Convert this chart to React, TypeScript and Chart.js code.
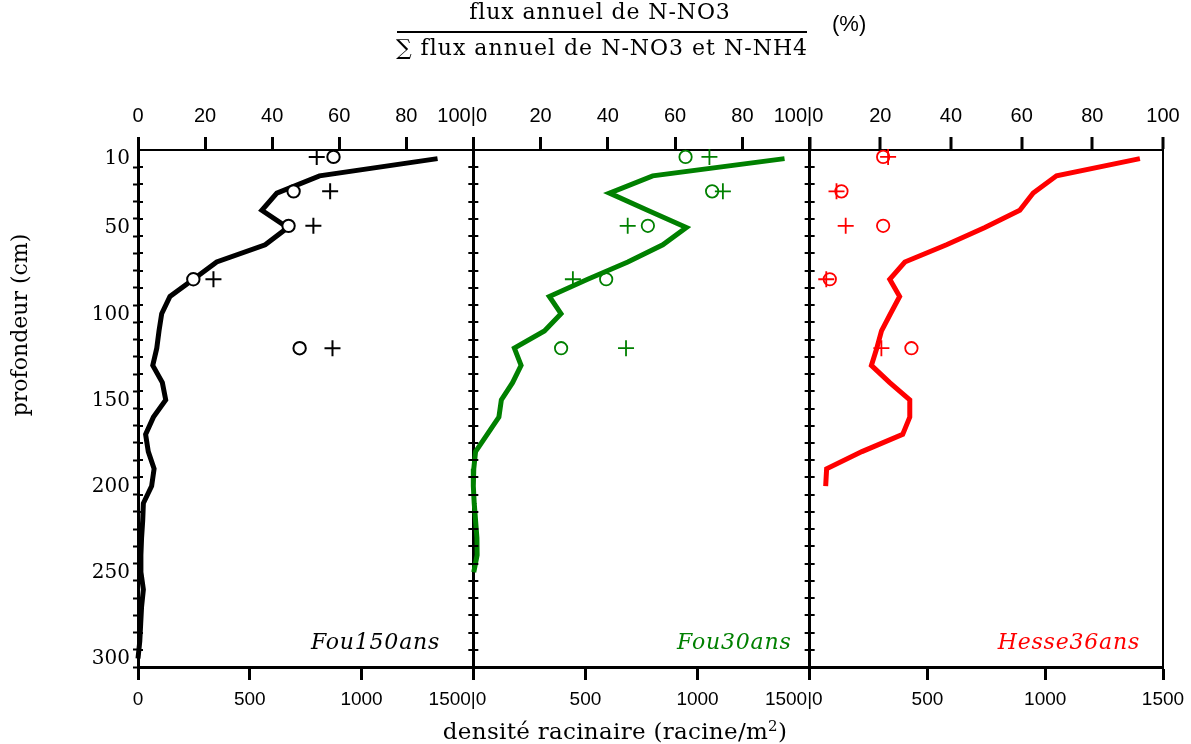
import React, { useEffect, useRef } from 'react';
import { Chart, registerables } from 'chart.js';

Chart.register(...registerables);

// ---------- data ----------
const PANEL_NAMES = ['Fou150ans', 'Fou30ans', 'Hesse36ans'];
const PANEL_COLORS = ['#000000', '#008000', '#ff0000'];

const DEPTH_LABELS = [10, 50, 100, 150, 200, 250, 300];

// root density profiles (racine/m2) vs depth (cm)
const FOU150_DEPTH = [5, 15, 25, 35, 45, 55, 65, 75, 85, 95, 105, 115, 125, 135, 145, 155, 165, 175, 185, 195, 205, 215, 225, 235, 245, 255, 265, 275, 285, 295];
const FOU150_DENS = [1340, 812, 621, 554, 670, 569, 352, 248, 143, 106, 94, 84, 66, 109, 124, 69, 34, 46, 72, 61, 24, 21, 16, 13, 13, 24, 16, 12, 8, 0];

const FOU30_DEPTH = [5, 15, 25, 35, 45, 55, 65, 75, 85, 95, 105, 115, 125, 135, 145, 155, 165, 175, 185, 195, 205, 215, 225, 235, 245];
const FOU30_DENS = [1388, 800, 607, 777, 950, 845, 689, 510, 339, 391, 317, 183, 213, 175, 125, 114, 62, 10, 2, 0, 4, 10, 16, 17, 2];

const HESSE_DEPTH = [5, 15, 25, 35, 45, 55, 65, 75, 85, 95, 105, 115, 125, 135, 145, 155, 165, 175, 185, 195];
const HESSE_DENS = [1402, 1048, 949, 892, 744, 581, 404, 340, 382, 343, 305, 285, 262, 340, 425, 425, 395, 222, 72, 68];

// N-NO3 share of annual flux (%) at sampling depths
const FLUX_DEPTH = [4, 24, 44, 75, 115];
const FOU150_CIRCLE = [58.3, 46.4, 44.9, 16.5, 48.2];
const FOU150_CROSS = [53.3, 57.3, 52.3, 22.5, 58.0];
const FOU30_CIRCLE = [63.1, 71.0, 51.9, 39.5, 26.1];
const FOU30_CROSS = [70.2, 74.2, 45.9, 29.6, 45.4];
const HESSE_CIRCLE = [20.8, 9.0, 20.8, 5.7, 28.8];
const HESSE_CROSS = [22.2, 7.6, 10.2, 4.7, 20.3];

// ---------- styling / layout ----------
const SERIF = '"DejaVu Serif", serif';
const SANS = '"Liberation Sans", Arial, sans-serif';
const PANEL_WEIGHTS = [335, 336, 353];
const LABEL_ANCHOR_PCT = [90.1, 94.6, 93.5];
const LABEL_DEPTH = 286;

const pts = (xs: number[], ys: number[]) => xs.map((x, k) => ({ x, y: ys[k] }));

function topAxis(i: number) {
  return {
    type: 'linear',
    axis: 'x',
    position: 'top',
    stack: 'pct',
    stackWeight: PANEL_WEIGHTS[i],
    weight: 3 - i,
    min: 0,
    max: 100,
    ticks: {
      stepSize: 20,
      autoSkip: false,
      maxRotation: 0,
      minRotation: 0,
      padding: 9,
      color: '#000',
      font: { family: SANS, size: 20 },
      callback: (v: number) =>
        v === 100 && i < 2 ? '100|0\u2007\u2007' : v === 0 && i > 0 ? '' : String(v),
    },
    grid: {
      drawOnChartArea: true,
      color: (c: any) => (c.tick && c.tick.value === 100 ? '#000' : 'rgba(0,0,0,0)'),
      lineWidth: i < 2 ? 3 : 2,
      tickColor: '#000',
      tickWidth: 3,
      tickLength: 13,
    },
    border: { display: true, color: '#000', width: 2 },
    afterFit: (s: any) => {
      s.height = 150;
      s.paddingLeft = 0;
      s.paddingRight = 0;
    },
  };
}

function bottomAxis(i: number) {
  return {
    type: 'linear',
    axis: 'x',
    position: 'bottom',
    stack: 'dens',
    stackWeight: PANEL_WEIGHTS[i],
    weight: i,
    min: 0,
    max: 1500,
    ticks: {
      stepSize: 500,
      autoSkip: false,
      maxRotation: 0,
      minRotation: 0,
      padding: 8,
      color: '#000',
      font: { family: SANS, size: 19 },
      callback: (v: number) =>
        v === 1500 && i < 2 ? '1500|0\u2007\u2007\u2007' : v === 0 && i > 0 ? '' : String(v),
    },
    grid: { drawOnChartArea: false, tickColor: '#000', tickWidth: 3, tickLength: 13 },
    border: { display: true, color: '#000', width: 3 },
    afterFit: (s: any) => {
      s.height = 77;
      s.paddingLeft = 0;
      s.paddingRight = 0;
    },
  };
}

const decorPlugin = {
  id: 'decor',
  afterDraw(chart: any) {
    const { ctx, scales } = chart;
    const ys = scales.y;
    const tops = [scales.xt1, scales.xt2, scales.xt3];
    ctx.save();
    ctx.strokeStyle = '#000';
    ctx.lineWidth = 2;
    const edges = [
      { x: tops[0].getPixelForValue(0), l: 0, r: 5 },
      { x: tops[0].getPixelForValue(100), l: 5, r: 5 },
      { x: tops[1].getPixelForValue(100), l: 5, r: 5 },
    ];
    ctx.beginPath();
    ys.ticks.forEach((t: any) => {
      if (t.value === 0) return;
      const py = Math.round(ys.getPixelForValue(t.value));
      edges.forEach((e) => {
        ctx.moveTo(e.x - e.l, py);
        ctx.lineTo(e.x + e.r, py);
      });
    });
    ctx.stroke();
    ctx.font = `italic 22px ${SERIF}`;
    try {
      ctx.letterSpacing = '0.8px';
    } catch (e) {}
    ctx.textAlign = 'right';
    ctx.textBaseline = 'middle';
    PANEL_NAMES.forEach((name, i) => {
      ctx.fillStyle = PANEL_COLORS[i];
      ctx.fillText(name, tops[i].getPixelForValue(LABEL_ANCHOR_PCT[i]), ys.getPixelForValue(LABEL_DEPTH));
    });
    ctx.restore();
  },
};

export default function App() {
  const ref = useRef<HTMLCanvasElement>(null);

  useEffect(() => {
    const panels = [
      { depth: FOU150_DEPTH, dens: FOU150_DENS, circ: FOU150_CIRCLE, cross: FOU150_CROSS },
      { depth: FOU30_DEPTH, dens: FOU30_DENS, circ: FOU30_CIRCLE, cross: FOU30_CROSS },
      { depth: HESSE_DEPTH, dens: HESSE_DENS, circ: HESSE_CIRCLE, cross: HESSE_CROSS },
    ];
    const crossSets = panels.map((p, i) => ({
      label: PANEL_NAMES[i] + ' +',
      data: pts(p.cross, FLUX_DEPTH),
      xAxisID: 'xt' + (i + 1),
      yAxisID: 'y',
      showLine: false,
      pointStyle: 'cross',
      pointRadius: 8,
      borderColor: PANEL_COLORS[i],
      borderWidth: i === 0 ? 2 : 1.8,
      clip: false,
    }));
    const circleSets = panels.map((p, i) => ({
      label: PANEL_NAMES[i] + ' o',
      data: pts(p.circ, FLUX_DEPTH),
      xAxisID: 'xt' + (i + 1),
      yAxisID: 'y',
      showLine: false,
      pointStyle: 'circle',
      pointRadius: 6.2,
      backgroundColor: i === 0 ? '#ffffff' : 'rgba(255,255,255,0)',
      borderColor: PANEL_COLORS[i],
      borderWidth: i === 0 ? 2 : 1.8,
      clip: false,
    }));
    const lineSets = panels.map((p, i) => ({
      label: PANEL_NAMES[i],
      data: pts(p.dens, p.depth),
      xAxisID: 'xb' + (i + 1),
      yAxisID: 'y',
      showLine: true,
      pointRadius: 0,
      borderColor: PANEL_COLORS[i],
      borderWidth: 5,
      tension: 0,
      fill: false,
      clip: 8,
    }));

    const chart = new Chart(ref.current as HTMLCanvasElement, {
      type: 'scatter',
      data: { datasets: [...crossSets, ...circleSets, ...lineSets] as any },
      options: {
        animation: false,
        responsive: false,
        maintainAspectRatio: false,
        devicePixelRatio: 1,
        events: [],
        layout: { padding: { left: 0, top: 0, right: 28, bottom: 0 } },
        plugins: { legend: { display: false }, tooltip: { enabled: false } },
        scales: {
          y: {
            type: 'linear',
            axis: 'y',
            position: 'left',
            reverse: true,
            min: 0,
            max: 300,
            ticks: {
              stepSize: 10,
              autoSkip: false,
              padding: 3,
              labelOffset: -8,
              color: '#000',
              font: { family: SERIF, size: 20 },
              callback: (v: number) => (v === 0 ? null : DEPTH_LABELS.includes(v) ? String(v) : ''),
            },
            grid: { drawOnChartArea: false, tickLength: 5, tickWidth: 2, tickColor: '#000' },
            border: { display: true, color: '#000', width: 3 },
            afterFit: (s: any) => {
              s.width = 138;
              s.paddingTop = 0;
              s.paddingBottom = 0;
            },
          },
          xt1: topAxis(0),
          xt2: topAxis(1),
          xt3: topAxis(2),
          xb1: bottomAxis(0),
          xb2: bottomAxis(1),
          xb3: bottomAxis(2),
        } as any,
      },
      plugins: [decorPlugin],
    } as any);
    return () => chart.destroy();
  }, []);

  const serifText: React.CSSProperties = {
    position: 'absolute',
    fontFamily: SERIF,
    fontSize: 22,
    lineHeight: '22px',
    color: '#000',
    whiteSpace: 'nowrap',
    textAlign: 'center',
  };

  return (
    <div style={{ position: 'absolute', left: 0, top: 0, width: 1191, height: 744, background: '#fff', overflow: 'hidden' }}>
      <canvas ref={ref} width={1191} height={744} style={{ position: 'absolute', left: 0, top: 0, width: 1191, height: 744 }} />
      <div style={{ ...serifText, left: 400, top: 1, width: 400, letterSpacing: '0.9px' }}>flux annuel de N-NO3</div>
      <div style={{ position: 'absolute', left: 397, top: 31, width: 410, height: 2, background: '#000' }} />
      <div style={{ ...serifText, left: 352, top: 37, width: 500, letterSpacing: '1px' }}>∑ flux annuel de N-NO3 et N-NH4</div>
      <div style={{ position: 'absolute', left: 832, top: 13, fontFamily: SANS, fontSize: 22, lineHeight: '22px', whiteSpace: 'nowrap' }}>(%)</div>
      <div
        style={{
          ...serifText,
          left: 20 - 110,
          top: 324.5 - 13,
          width: 220,
          height: 26,
          lineHeight: '26px',
          transform: 'rotate(-90deg)',
          transformOrigin: '50% 50%',
        }}
      >
        profondeur (cm)
      </div>
      <div style={{ ...serifText, left: 415, top: 720, width: 400, fontSize: 23, lineHeight: '23px', letterSpacing: '0.3px' }}>
        densité racinaire (racine/m<span style={{ fontSize: 15, position: 'relative', top: -8 }}>2</span>)
      </div>
    </div>
  );
}
